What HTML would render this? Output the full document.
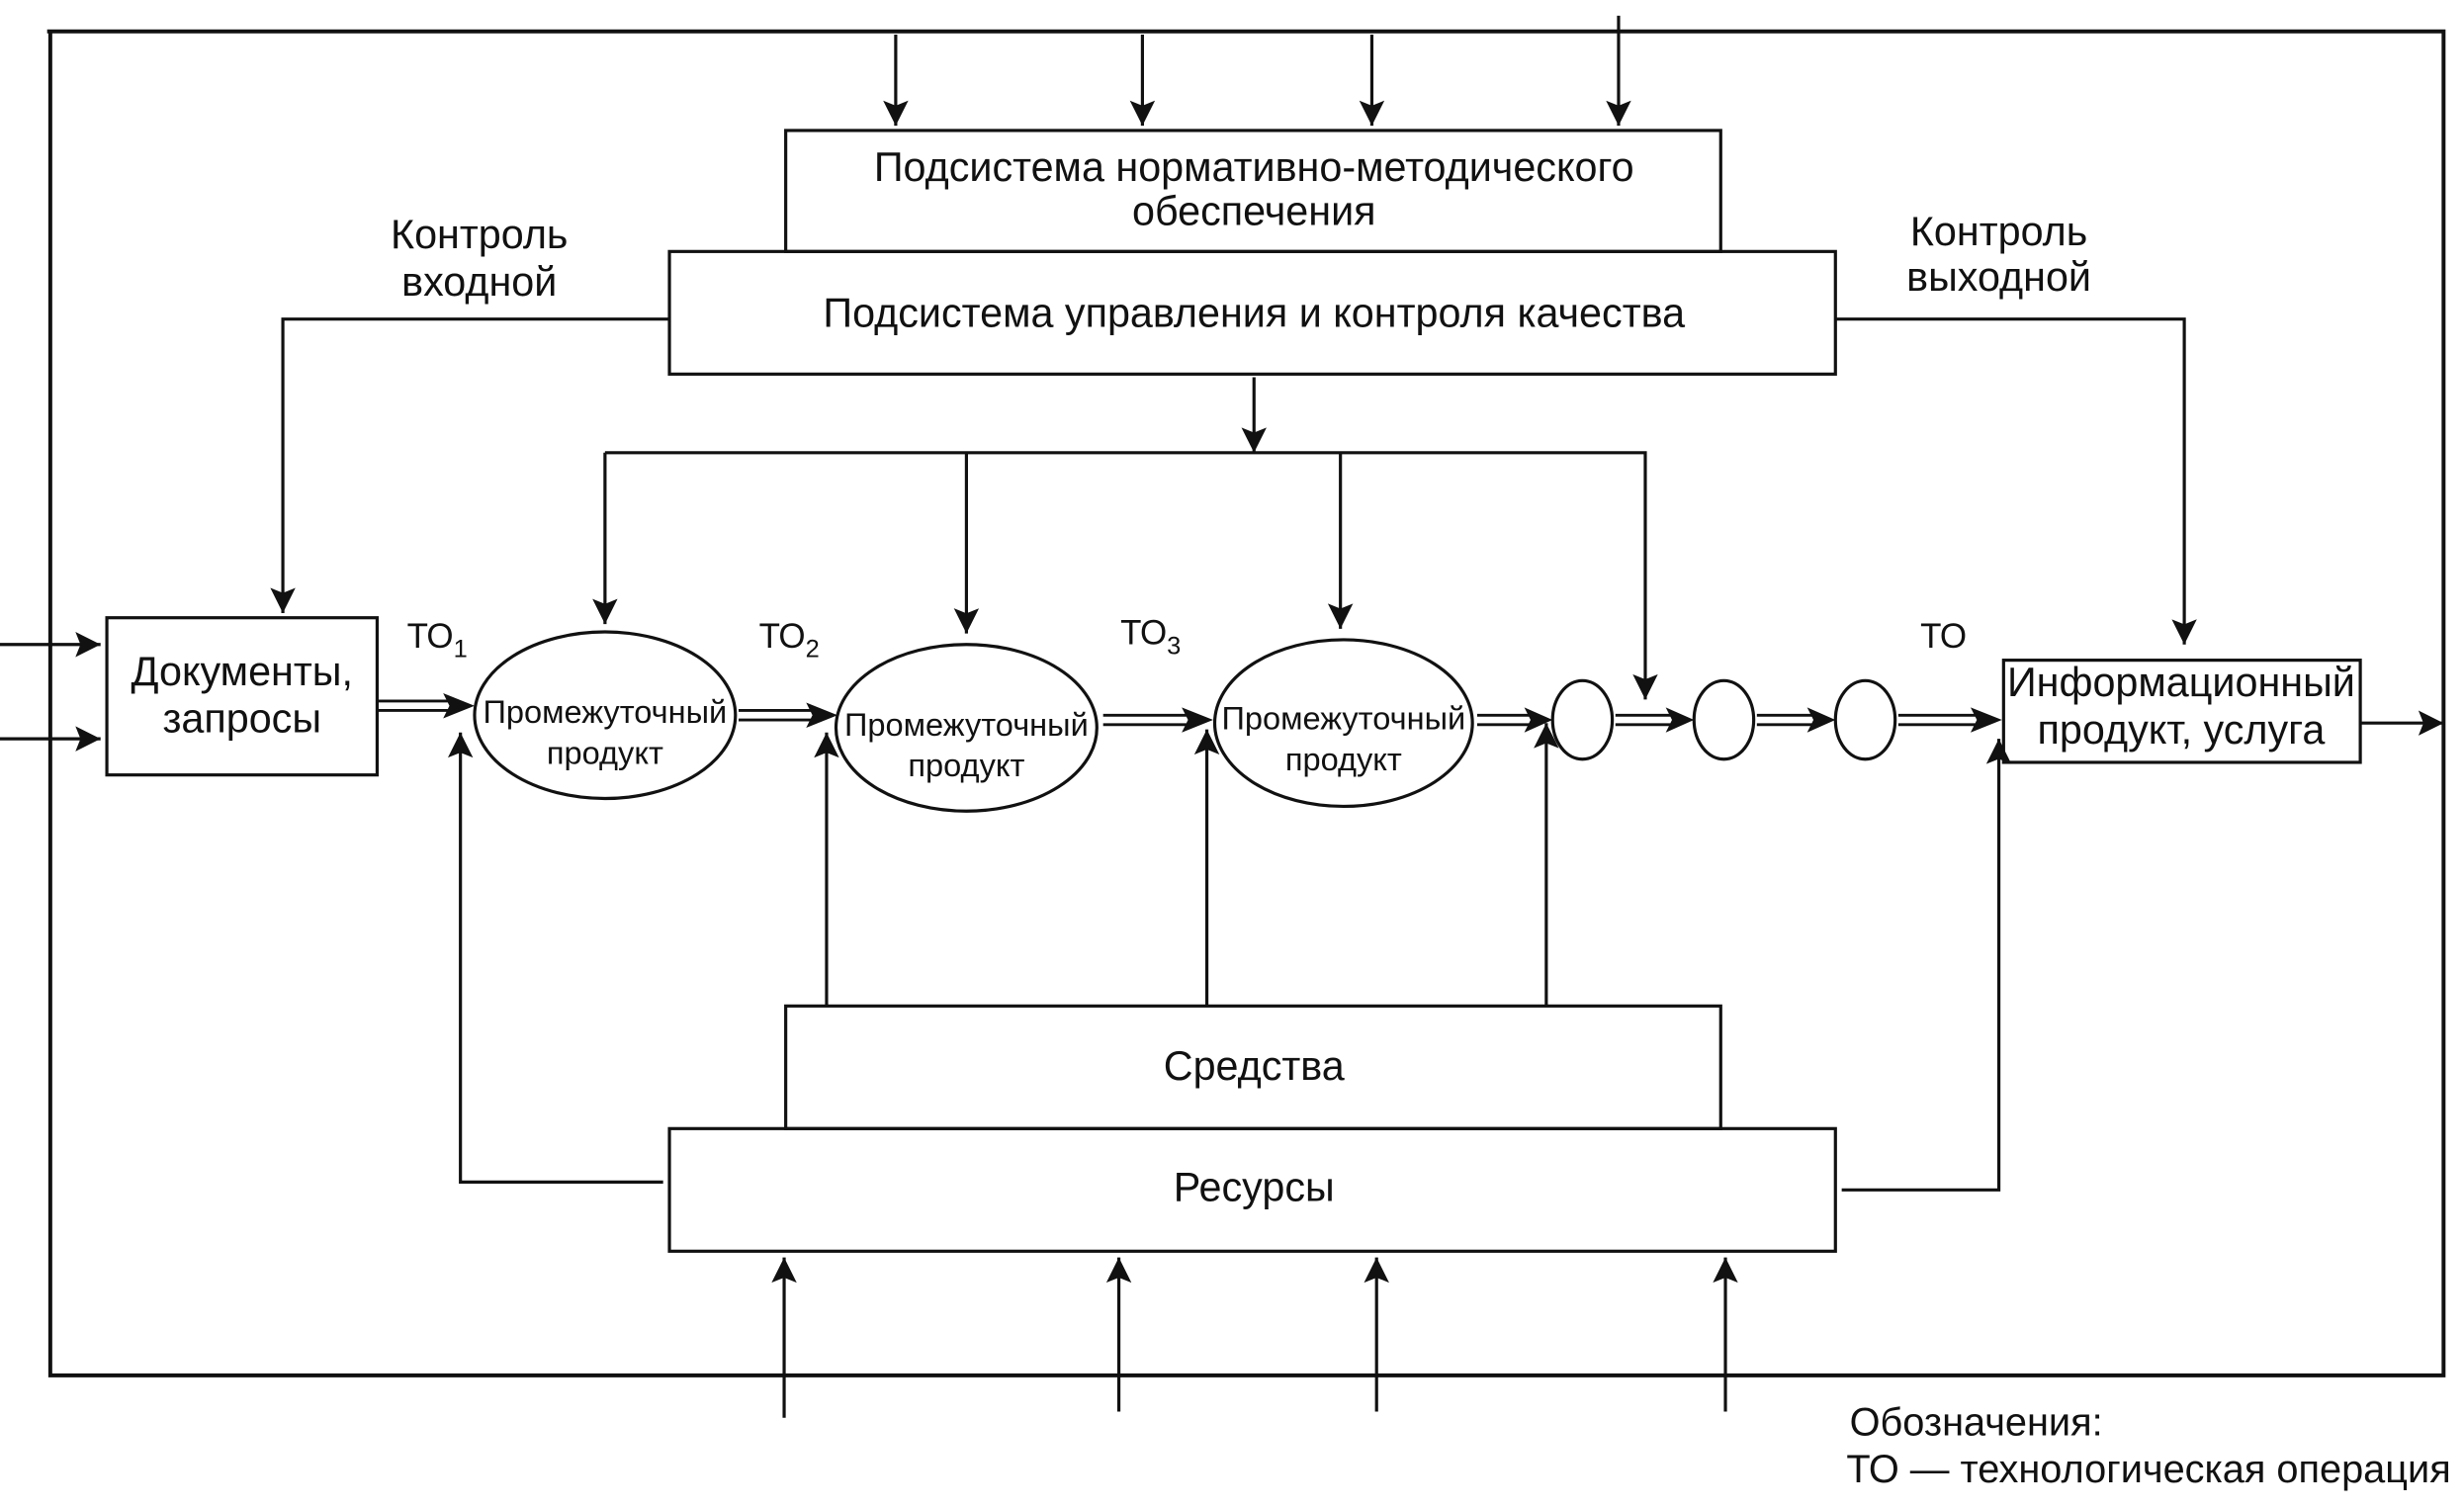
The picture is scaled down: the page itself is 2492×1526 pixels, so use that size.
<!DOCTYPE html>
<html><head><meta charset="utf-8"><style>
html,body{margin:0;padding:0;background:#fff;}
svg{display:block;}
text{font-family:"Liberation Sans",sans-serif;fill:#111;}
</style></head><body>
<svg width="2492" height="1526" viewBox="0 0 1568 960" preserveAspectRatio="none" xmlns="http://www.w3.org/2000/svg">
<defs>
<marker id="b" viewBox="0 0 10 10" refX="10" refY="5" markerWidth="22" markerHeight="16" markerUnits="userSpaceOnUse" orient="auto"><path d="M0,0 L10,5 L0,10 L2,5 z" fill="#111"/></marker>
</defs>
<g stroke="#111" stroke-width="2" fill="none">
<path d="M30,20 L1555,20 L1555,875 L32,875 L32,20" stroke-width="2.5"/>
<rect x="500" y="83" width="595" height="77"/>
<rect x="426" y="160" width="742" height="78"/>
<rect x="68" y="393" width="172" height="100"/>
<rect x="1275" y="420" width="227" height="65"/>
<rect x="500" y="640" width="595" height="78"/>
<rect x="426" y="718" width="742" height="78"/>
<ellipse cx="385" cy="455" rx="83" ry="53"/>
<ellipse cx="615" cy="463" rx="83" ry="53"/>
<ellipse cx="855" cy="460" rx="82" ry="53"/>
<ellipse cx="1007" cy="458" rx="19" ry="25"/>
<ellipse cx="1097" cy="458" rx="19" ry="25"/>
<ellipse cx="1187" cy="458" rx="19" ry="25"/>
</g>
<g stroke="#111" stroke-width="2" fill="none" marker-end="url(#b)">
<line x1="570" y1="22" x2="570" y2="80"/>
<line x1="727" y1="22" x2="727" y2="80"/>
<line x1="873" y1="22" x2="873" y2="80"/>
<line x1="1030" y1="10" x2="1030" y2="80"/>
<polyline points="426,203 180,203 180,390"/>
<polyline points="1168,203 1390,203 1390,410"/>
<line x1="798" y1="240" x2="798" y2="288"/>
<line x1="385" y1="288" x2="385" y2="397"/>
<line x1="615" y1="288" x2="615" y2="403"/>
<line x1="853" y1="288" x2="853" y2="400"/>
<polyline points="385,288 1047,288 1047,445"/>
<line x1="0" y1="410" x2="64" y2="410"/>
<line x1="0" y1="470" x2="64" y2="470"/>
<line x1="1502" y1="460" x2="1555" y2="460"/>
<line x1="526" y1="640" x2="526" y2="466"/>
<line x1="768" y1="640" x2="768" y2="464"/>
<line x1="984" y1="640" x2="984" y2="460"/>
<polyline points="422,752 293,752 293,466"/>
<polyline points="1172,757 1272,757 1272,470"/>
<line x1="499" y1="902" x2="499" y2="800"/>
<line x1="712" y1="898" x2="712" y2="800"/>
<line x1="876" y1="898" x2="876" y2="800"/>
<line x1="1098" y1="898" x2="1098" y2="800"/>
</g>
<g stroke="#111" stroke-width="1.8" fill="none">
<path d="M240,446 H285 M240,452 H285"/>
<path d="M470,452 H517 M470,458 H517"/>
<path d="M702,455 H755 M702,461 H755"/>
<path d="M940,455 H975 M940,461 H975"/>
<path d="M1028,455 H1065 M1028,461 H1065"/>
<path d="M1118,455 H1155 M1118,461 H1155"/>
<path d="M1208,455 H1258 M1208,461 H1258"/>
</g>
<g fill="#111">
<path d="M302,449 L282,441 L286,449 L282,457 z"/>
<path d="M533,455 L513,447 L517,455 L513,463 z"/>
<path d="M772,458 L752,450 L756,458 L752,466 z"/>
<path d="M988,458 L970,450 L974,458 L970,466 z"/>
<path d="M1078,458 L1060,450 L1064,458 L1060,466 z"/>
<path d="M1168,458 L1150,450 L1154,458 L1150,466 z"/>
<path d="M1274,458 L1254,450 L1258,458 L1254,466 z"/>
</g>
<g font-size="26" text-anchor="middle">
<text x="798" y="115">Подсистема нормативно-методического</text>
<text x="798" y="143">обеспечения</text>
<text x="798" y="208">Подсистема управления и контроля качества</text>
<text x="305" y="158">Контроль</text>
<text x="305" y="188">входной</text>
<text x="1272" y="156">Контроль</text>
<text x="1272" y="185">выходной</text>
<text x="154" y="436">Документы,</text>
<text x="154" y="466">запросы</text>
<text x="1388" y="443">Информационный</text>
<text x="1388" y="473">продукт, услуга</text>
<text x="798" y="687">Средства</text>
<text x="798" y="764">Ресурсы</text>
</g>
<g font-size="20.5" text-anchor="middle">
<text x="385" y="460">Промежуточный</text>
<text x="385" y="486">продукт</text>
<text x="615" y="468">Промежуточный</text>
<text x="615" y="494">продукт</text>
<text x="855" y="464">Промежуточный</text>
<text x="855" y="490">продукт</text>
</g>
<g font-size="22">
<text x="259" y="412">ТО<tspan font-size="16" dy="6">1</tspan></text>
<text x="483" y="412">ТО<tspan font-size="16" dy="6">2</tspan></text>
<text x="713" y="410">ТО<tspan font-size="16" dy="6">3</tspan></text>
<text x="1222" y="412">ТО</text>
</g>
<g font-size="25">
<text x="1177" y="913">Обозначения:</text>
<text x="1175" y="943">ТО — технологическая операция</text>
</g>
</svg>
</body></html>
